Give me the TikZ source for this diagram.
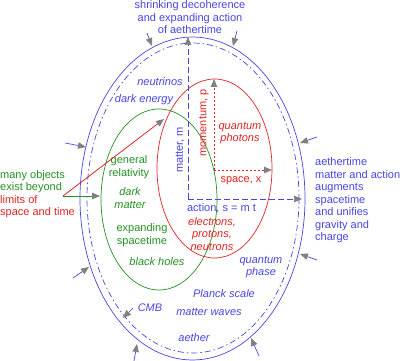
\documentclass[tikz,border=0pt]{standalone}
\usepackage{fontspec}
\setmainfont{Liberation Sans}
\usetikzlibrary{arrows.meta}
\definecolor{AeBlue}{RGB}{70,70,225}
\definecolor{AeRed}{RGB}{225,35,35}
\definecolor{AeGreen}{RGB}{35,145,35}
\definecolor{TipGray}{RGB}{128,128,128}

\begin{document}
\begin{tikzpicture}[x=1pt,y=-1pt,every node/.style={inner sep=0pt,align=center,font=\fontsize{11}{12.5}\selectfont},
  gtip/.style={-{Triangle[length=8pt,width=6.5pt,color=TipGray]}},
  inarrow/.style={gtip,AeBlue,line width=0.7pt},
  blbl/.style={text=AeBlue,font=\fontsize{11}{12.5}\selectfont\itshape},
  rlbl/.style={text=AeRed,font=\fontsize{11}{12.5}\selectfont\itshape},
  glbl/.style={text=AeGreen,font=\fontsize{11}{12.5}\selectfont\itshape}]
  \useasboundingbox (0,0) rectangle (400,361);
  % rings
  \draw[AeBlue,line width=0.7pt] (192.5,198.5) ellipse [x radius=112.5,y radius=161.5];
  \draw[AeBlue,line width=0.7pt,dash pattern=on 6pt off 3pt on 1.5pt off 3pt] (193,198) ellipse [x radius=106,y radius=155];
  \draw[AeGreen,line width=0.7pt] (159,199.5) ellipse [x radius=58,y radius=90.5];
  \draw[AeRed,line width=0.7pt] (214.5,168.5) ellipse [x radius=57.5,y radius=89.5];
  % axes
  \coordinate (mo) at (188,199);
  \coordinate (mtop) at (188,37);
  \coordinate (sright) at (302,199);
  \coordinate (po) at (214,170);
  \coordinate (ptop) at (214,79);
  \coordinate (xright) at (272,170);
  \draw[gtip,AeBlue,line width=0.7pt,dash pattern=on 6pt off 3pt] (mo) -- (mtop);
  \draw[gtip,AeBlue,line width=0.7pt,dash pattern=on 6pt off 3pt] (mo) -- (sright);
  \draw[gtip,AeRed,line width=0.8pt,dash pattern=on 1.5pt off 2.5pt] (po) -- (ptop);
  \draw[gtip,AeRed,line width=0.8pt,dash pattern=on 1.5pt off 2.5pt] (po) -- (xright);
  % pressure on the rim
  \foreach \a/\b/\c/\d [count=\i] in {147/33/152/46,237/31/233/46,65/143/86/147,317/137/300/143,73/278/89/267,317/260/300/254,134/361/137/344,259/356/251/338,133/308/123/318}{
    \coordinate (in\i) at (\a,\b);
    \coordinate (at\i) at (\c,\d);
    \draw[inarrow] (in\i) -- (at\i);}
  % labels
  \node[text=AeBlue] (title) at (190,17.5) {shrinking decoherence\\and expanding action\\of aethertime};
  \node[blbl] (neut) at (160,82) {neutrinos};
  \node[blbl] (darkE) at (144,100) {dark energy};
  \node[text=AeRed,align=left,anchor=west] (objects) at (0,194) {\textcolor{AeGreen}{many objects}\\\textcolor{AeGreen}{exist beyond}\\limits of\\space and time};
  \node[text=AeGreen] (genrel) at (129,167) {general\\relativity};
  \node[glbl] (darkM) at (130,198) {dark\\matter};
  \node[text=AeGreen] (expand) at (142,235) {expanding\\spacetime};
  \node[glbl] (holes) at (157,262) {black holes};
  \node[text=AeBlue,rotate=90] (matter) at (180,150) {matter, m};
  \node[text=AeRed,rotate=90] (moment) at (204,123) {momentum, p};
  \node[rlbl] (photons) at (240,133) {quantum\\photons};
  \node[text=AeRed] (space) at (241,181) {space, x};
  \node[text=AeBlue] (action) at (221.5,208) {action, s = m t};
  \node[rlbl] (particles) at (212,234) {electrons,\\protons,\\neutrons};
  \node[blbl] (phase) at (261,267) {quantum\\phase};
  \node[blbl] (planck) at (224,294) {Planck scale};
  \node[blbl] (waves) at (209,312) {matter waves};
  \node[blbl] (cmb) at (150,308) {CMB};
  \node[blbl] (aether) at (194,338) {aether};
  \node[text=AeBlue,align=left,anchor=west] (unify) at (315,200.5) {aethertime\\matter and action\\augments\\spacetime\\and unifies\\gravity and\\charge};
  % beyond the limits
  \coordinate (src) at (63,196);
  \coordinate (grtip) at (100,196);
  \coordinate (qtip) at (164,119);
  \draw[gtip,AeGreen,line width=0.8pt] (src) -- (grtip);
  \draw[gtip,AeRed,line width=0.8pt] (src) -- (qtip);
\end{tikzpicture}
\end{document}
